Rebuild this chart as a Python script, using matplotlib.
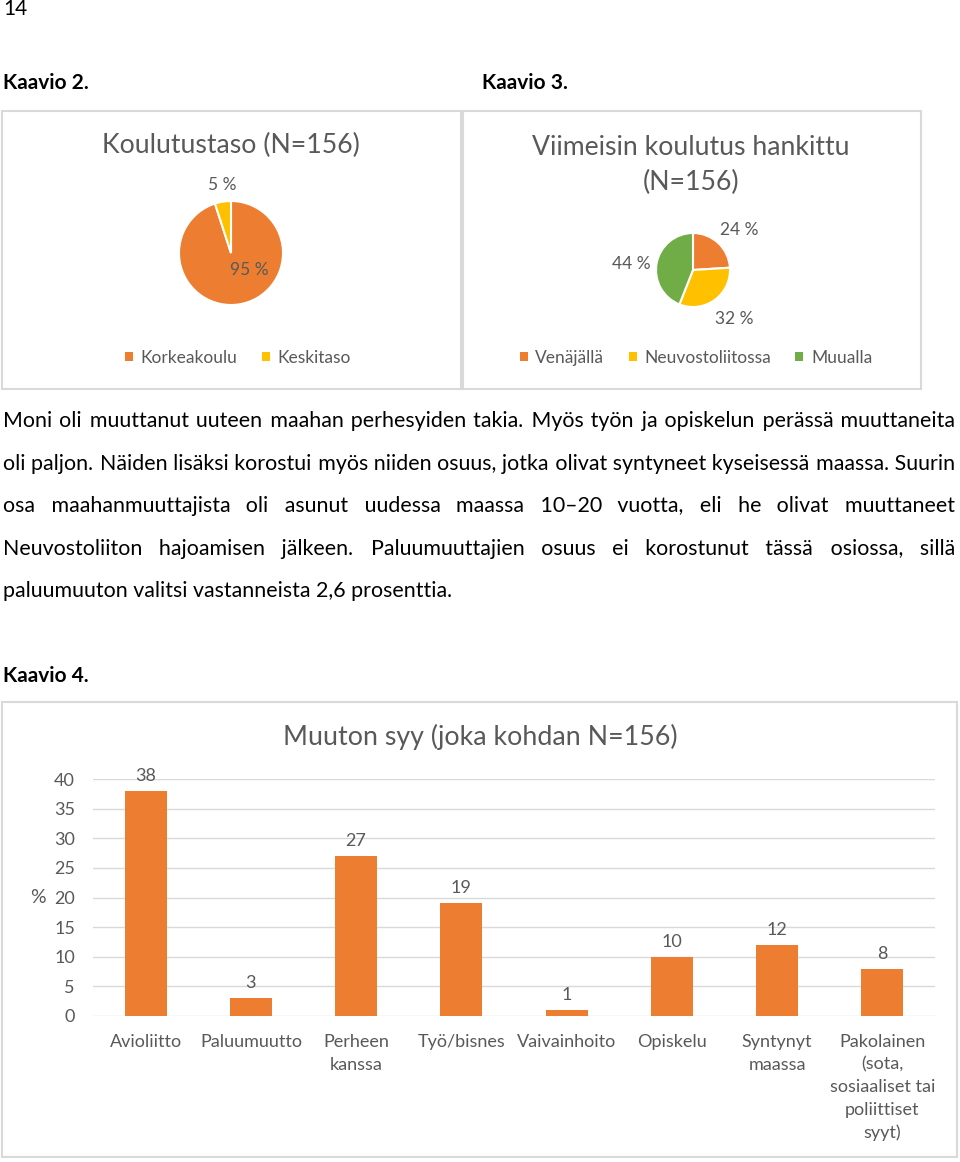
import matplotlib
matplotlib.use('Agg')
import matplotlib.pyplot as plt
from matplotlib.patches import Rectangle, Patch

plt.rcParams['font.family'] = ['Lato', 'DejaVu Sans']

ORANGE = '#ED7D31'
YELLOW = '#FFC000'
GREEN = '#70AD47'
GRAY = '#595959'
GRID = '#D9D9D9'
HAIR = '\u200a'

# Kaavio 2
level_labels = ['Korkeakoulu', 'Keskitaso']
level_values = [95, 5]
level_colors = [ORANGE, YELLOW]

# Kaavio 3
place_labels = ['Venäjällä', 'Neuvostoliitossa', 'Muualla']
place_values = [24, 32, 44]
place_colors = [ORANGE, YELLOW, GREEN]

# Kaavio 4
reasons = ['Avioliitto', 'Paluumuutto', 'Perheen\nkanssa', 'Työ/bisnes',
           'Vaivainhoito', 'Opiskelu', 'Syntynyt\nmaassa',
           'Pakolainen\n(sota,\nsosiaaliset tai\npoliittiset\nsyyt)']
reason_values = [38, 3, 27, 19, 1, 10, 12, 8]
y_ticks = [0, 5, 10, 15, 20, 25, 30, 35, 40]

paragraph = [
    'Moni oli muuttanut uuteen maahan perhesyiden takia. Myös työn ja opiskelun perässä muuttaneita',
    'oli paljon. Näiden lisäksi korostui myös niiden osuus, jotka olivat syntyneet kyseisessä maassa. Suurin',
    'osa maahanmuuttajista oli asunut uudessa maassa 10–20 vuotta, eli he olivat muuttaneet',
    'Neuvostoliiton hajoamisen jälkeen. Paluumuuttajien osuus ei korostunut tässä osiossa, sillä',
    'paluumuuton valitsi vastanneista 2,6 prosenttia.',
]

W, H = 960, 1162


def fx(px):
    return px / W


def fy(py):
    return 1 - py / H


def box(fig, x0, y0, x1, y1):
    fig.add_artist(Rectangle((fx(x0), fy(y1)), fx(x1) - fx(x0), fy(y0) - fy(y1),
                             transform=fig.transFigure, facecolor='none',
                             edgecolor=GRID, linewidth=1.5))


def pie_axes(fig, cx, cy, r):
    return fig.add_axes([fx(cx - r), fy(cy + r), 2 * r / W, 2 * r / H])


def draw_pie(ax, values, colors, label_pos):
    wedges, _ = ax.pie(values, colors=colors, startangle=90, counterclock=False,
                       wedgeprops=dict(edgecolor='white', linewidth=1.5))
    ax.set_xlim(-1, 1)
    ax.set_ylim(-1, 1)
    for v, (lx, ly) in zip(values, label_pos):
        ax.text(lx, ly, f'{v} %', ha='center', va='center', fontsize=12.5, color=GRAY)
    return wedges


def legend(fig, wedges, labels, cx, cy):
    handles = [Patch(facecolor=w.get_facecolor()) for w in wedges]
    fig.legend(handles, labels, loc='center', bbox_to_anchor=(fx(cx), fy(cy)),
               ncol=len(labels), frameon=False, fontsize=12.5, labelcolor=GRAY,
               handlelength=0.45, handleheight=0.45, handletextpad=0.45,
               columnspacing=1.4)


def text_width(fig, s, **kw):
    t = fig.text(0, 0, s, **kw)
    w = t.get_window_extent(fig.canvas.get_renderer()).width
    t.remove()
    return w


def justified_line(fig, text, y, x0, x1, justify, **kw):
    if justify:
        words = text.split(' ')
        hair = (text_width(fig, 'x' + HAIR * 20 + 'x', **kw) - text_width(fig, 'xx', **kw)) / 20
        total = x1 - x0 - sum(text_width(fig, w, **kw) for w in words)
        step = total / (len(words) - 1) / hair
        out = words[0]
        for i, w in enumerate(words[1:]):
            n = round((i + 1) * step) - round(i * step)
            out += HAIR * n + w
        text = out
    fig.text(fx(x0), fy(y), text, va='baseline', ha='left', **kw)


fig = plt.figure(figsize=(9.6, 11.62), dpi=100)

# page text
fig.text(fx(3), fy(15), '14', fontsize=15, va='baseline', color='black')
fig.text(fx(3), fy(89), 'Kaavio 2.', fontsize=15, fontweight='bold', va='baseline')
fig.text(fx(482), fy(89), 'Kaavio 3.', fontsize=15, fontweight='bold', va='baseline')
fig.text(fx(3), fy(682), 'Kaavio 4.', fontsize=15, fontweight='bold', va='baseline')

# pie boxes
box(fig, 2, 111, 461, 389)
box(fig, 463, 111, 921, 389)

# Kaavio 2 pie
fig.text(fx(231), fy(145), 'Koulutustaso (N=156)', ha='center', va='center',
         fontsize=19.2, color=GRAY)
ax1 = pie_axes(fig, 231, 253, 52)
w1 = draw_pie(ax1, level_values, level_colors, [(0.35, -0.33), (-0.17, 1.31)])
legend(fig, w1, level_labels, 238, 358)

# Kaavio 3 pie
fig.text(fx(691), fy(165), 'Viimeisin koulutus hankittu\n(N=156)', ha='center',
         va='center', fontsize=19.2, color=GRAY, linespacing=1.5)
ax2 = pie_axes(fig, 693, 270, 37)
w2 = draw_pie(ax2, place_values, place_colors,
              [(1.24, 1.08), (1.11, -1.32), (-1.68, 0.16)])
legend(fig, w2, place_labels, 696, 358)

# paragraph
for i, line in enumerate(paragraph):
    justified_line(fig, line, 427 + i * 42.6, 3, 955, i < len(paragraph) - 1,
                   fontsize=15.4, color='black')

# Kaavio 4 bar chart
box(fig, 2, 702, 957, 1157)
fig.text(fx(480), fy(737), 'Muuton syy (joka kohdan N=156)', ha='center',
         va='center', fontsize=19.3, color=GRAY)
ax = fig.add_axes([fx(93), fy(1016), (935 - 93) / W, (1016 - 779) / H])
x = range(len(reasons))
bars = ax.bar(x, reason_values, width=0.4, color=ORANGE, zorder=2)
ax.bar_label(bars, padding=5, fontsize=13, color=GRAY)
ax.set_xlim(-0.5, len(reasons) - 0.5)
ax.set_ylim(0, 40)
ax.set_yticks(y_ticks)
ax.set_xticks(list(x))
ax.set_xticklabels(reasons, linespacing=1.5)
ax.tick_params(axis='x', length=0, pad=13, labelsize=13, labelcolor=GRAY)
ax.tick_params(axis='y', length=0, pad=13, labelsize=13, labelcolor=GRAY)
ax.grid(axis='y', color=GRID, linewidth=1, zorder=0)
ax.set_axisbelow(True)
for s in ax.spines.values():
    s.set_visible(False)
ax.set_ylabel('%', rotation=0, fontsize=14, color=GRAY, va='center')
ax.yaxis.set_label_coords(fx(38) / ((935 - 93) / W) - fx(93) / ((935 - 93) / W), 0.5)

fig.savefig('out.png', dpi=100)
